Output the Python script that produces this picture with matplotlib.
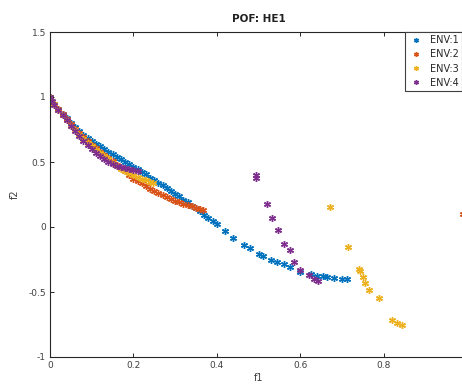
import numpy as np
import matplotlib
matplotlib.use('Agg')
import matplotlib.pyplot as plt

# ----------------------------
# Datos
# ----------------------------
env1_x = [0, .01, .02, .03, .04, .05, .06, .07, .08, .09, .10, .11, .12, .13, .14, .15, .16, .17, .18, .19,
          .20, .21, .22, .23, .24, .25, .26, .27, .28, .29, .30, .31, .32, .33, .34, .35, .36, .37, .38, .39,
          .40, .42, .44, .465, .48, .50, .51, .53, .545, .56, .575, .60, .625, .64, .655, .665, .68, .70, .712]
env1_y = [1, .95, .91, .87, .835, .80, .77, .74, .71, .685, .66, .64, .62, .60, .58, .56, .54, .52, .50, .485,
          .465, .445, .425, .405, .38, .36, .34, .32, .30, .275, .255, .235, .21, .19, .165, .145, .12, .095, .07, .045,
          .02, -.03, -.085, -.14, -.16, -.205, -.225, -.25, -.27, -.285, -.31, -.345, -.36, -.375, -.38, -.385, -.39, -.40, -.40]

env2_x = [0, .01, .02, .03, .04, .05, .06, .07, .08, .09, .10, .11, .12, .13, .14, .15, .16, .17, .18, .19,
          .20, .21, .22, .23, .24, .25, .26, .27, .28, .29, .30, .31, .32, .33, .34, .35, .36, .367, .99]
env2_y = [1, .95, .91, .87, .83, .79, .755, .72, .69, .66, .63, .605, .58, .555, .53, .51, .48, .455, .43, .40,
          .37, .355, .335, .315, .295, .28, .26, .245, .23, .215, .20, .19, .18, .17, .16, .15, .14, .13, .10]

env3_x = [0, .01, .02, .03, .04, .05, .06, .07, .08, .09, .10, .11, .12, .13, .14, .15, .16, .17, .18, .19,
          .20, .21, .22, .23, .24, .248, .672, .715, .74, .744, .75, .756, .766, .79, .82, .832, .845]
env3_y = [1, .95, .90, .86, .82, .78, .745, .71, .68, .65, .62, .595, .57, .545, .52, .495, .47, .45, .43, .415,
          .40, .385, .37, .36, .35, .34, .155, -.155, -.32, -.335, -.385, -.43, -.485, -.545, -.715, -.735, -.755]

env4_x = [0, .005, .01, .02, .03, .04, .05, .06, .07, .08, .09, .10, .11, .12, .13, .14, .15, .16, .17, .18,
          .19, .20, .21, .494, .494, .52, .533, .547, .562, .576, .586, .60, .62, .632, .643]
env4_y = [1, .97, .94, .90, .86, .82, .78, .74, .70, .665, .63, .60, .57, .545, .52, .50, .485, .47, .46, .455,
          .45, .44, .43, .40, .375, .18, .07, -.02, -.13, -.18, -.27, -.33, -.37, -.40, -.415]

labels = ['ENV:1', 'ENV:2', 'ENV:3', 'ENV:4']
colors = ['#0072BD', '#D95319', '#EDB120', '#7E2F8E']
series = [(env1_x, env1_y), (env2_x, env2_y), (env3_x, env3_y), (env4_x, env4_y)]

# ----------------------------
# Figura
# ----------------------------
fig = plt.figure(figsize=(4.62, 3.88), dpi=100)
# el eje se sale un poco por la derecha, como en la captura
ax = fig.add_axes([50 / 462, 31 / 388, 417 / 462, 325 / 388])

for (x, y), c, lab in zip(series, colors, labels):
    ax.plot(x, y, linestyle='none', marker=(6, 2, 0), markersize=5, color=c,
            markeredgewidth=1.0, label=lab)

ax.set_xlim(0, 1)
ax.set_ylim(-1, 1.5)
ax.set_xticks([0, 0.2, 0.4, 0.6, 0.8, 1])
# la etiqueta "1" queda fuera de la captura
ax.set_xticklabels(['0', '0.2', '0.4', '0.6', '0.8', ''])
ax.set_yticks([-1, -0.5, 0, 0.5, 1, 1.5])
ax.set_yticklabels(['-1', '-0.5', '0', '0.5', '1', '1.5'])
ax.tick_params(direction='in', length=3, width=0.7, top=True, right=True,
               labelsize=6.5, labelcolor='#404040', color='#262626', pad=3)
for s in ax.spines.values():
    s.set_color('#262626')
    s.set_linewidth(0.8)

ax.set_title('POF: HE1', fontsize=7.5, fontweight='bold', color='#202020', pad=7)
ax.set_xlabel('f1', fontsize=7, color='#404040', labelpad=2)
ax.set_ylabel('f2', fontsize=7, color='#404040', labelpad=6)

leg = ax.legend(loc='upper right', bbox_to_anchor=(0.988, 1), borderaxespad=0,
                fontsize=7, fancybox=False, framealpha=1, edgecolor='#404040',
                handlelength=1.6, handletextpad=0.6, borderpad=0.35, labelspacing=0.42,
                markerscale=0.7)
leg.get_frame().set_linewidth(0.8)
for t in leg.get_texts():
    t.set_color('#262626')

fig.savefig('out.png', dpi=100)
